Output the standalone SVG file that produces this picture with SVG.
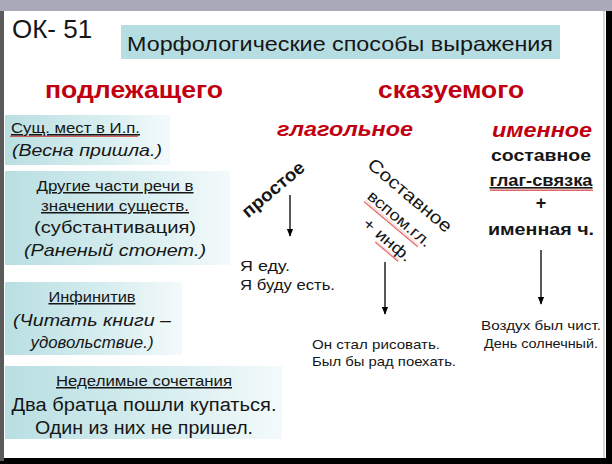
<svg xmlns="http://www.w3.org/2000/svg" width="612" height="464" viewBox="0 0 612 464">
<defs>
<linearGradient id="boxg" x1="0" y1="0" x2="1" y2="0">
<stop offset="0" stop-color="#b9dfe2"/>
<stop offset="0.6" stop-color="#d8eef0"/>
<stop offset="1" stop-color="#f4fafb"/>
</linearGradient>
<marker id="ah" viewBox="0 0 10 10" refX="9" refY="5" markerWidth="8" markerHeight="8" orient="auto" markerUnits="userSpaceOnUse">
<path d="M0,1 L10,5 L0,9 z" fill="#000"/>
</marker>
<pattern id="wavy" width="4" height="3" patternUnits="userSpaceOnUse">
<path d="M0,2 L1,0.5 L2,2 L3,0.5 L4,2" stroke="#d02020" stroke-width="0.8" fill="none"/>
</pattern>
</defs>
<style>
text{font-family:"Liberation Sans",Arial,sans-serif;fill:#161616}
.red{fill:#c00010;font-weight:bold}
.b{font-weight:bold}
.i{font-style:italic}
.c{text-anchor:middle}
.u{text-decoration:underline}
.arr{stroke:#000;stroke-width:1.3;fill:none;marker-end:url(#ah)}
</style>
<rect x="0" y="0" width="612" height="464" fill="#000"/>
<rect x="0" y="0" width="612" height="11" fill="#a9a9ba"/>
<rect x="0" y="11" width="4" height="450" fill="#5a5a5a"/>
<rect x="4" y="11" width="602" height="447" fill="#ffffff"/>
<rect x="603" y="11" width="2" height="447" fill="#d8d8d8"/>

<g id="code"><text x="12" y="38" font-size="26">ОК- 51</text></g>
<g id="title">
<rect x="121" y="25" width="439" height="34" fill="#b6dde1"/>
<text x="340" y="51" font-size="21" class="c" textLength="426" lengthAdjust="spacingAndGlyphs">Морфологические способы выражения</text>
</g>
<g id="podl"><text x="134" y="98" font-size="24" class="red c" textLength="178" lengthAdjust="spacingAndGlyphs">подлежащего</text></g>
<g id="skaz"><text x="451" y="98" font-size="24" class="red c" textLength="146" lengthAdjust="spacingAndGlyphs">сказуемого</text></g>

<g id="box1">
<rect x="5" y="115" width="165" height="50" fill="url(#boxg)"/>
<rect x="10" y="135" width="128" height="3" fill="url(#wavy)"/>
<text x="11" y="133" font-size="15" class="u" textLength="129" lengthAdjust="spacingAndGlyphs">Сущ. мест в И.п.</text>
<text x="12" y="156" font-size="17" class="i" textLength="150" lengthAdjust="spacingAndGlyphs">(Весна пришла.)</text>
</g>
<g id="box2">
<rect x="5" y="171" width="225" height="94" fill="url(#boxg)"/>
<text x="115" y="191" font-size="15" class="u c" textLength="157" lengthAdjust="spacingAndGlyphs">Другие части речи в</text>
<text x="115" y="211" font-size="15" class="u c" textLength="148" lengthAdjust="spacingAndGlyphs">значении существ.</text>
<text x="115" y="233" font-size="17" class="c" textLength="162" lengthAdjust="spacingAndGlyphs">(субстантивация)</text>
<text x="115" y="256" font-size="17" class="i c" textLength="182" lengthAdjust="spacingAndGlyphs">(Раненый стонет.)</text>
</g>
<g id="box3">
<rect x="5" y="282" width="177" height="73" fill="url(#boxg)"/>
<text x="92" y="302" font-size="15" class="u c" textLength="87" lengthAdjust="spacingAndGlyphs">Инфинитив</text>
<text x="92" y="326" font-size="17" class="i c" textLength="158" lengthAdjust="spacingAndGlyphs">(Читать книги –</text>
<text x="92" y="348" font-size="17" class="i c" textLength="123" lengthAdjust="spacingAndGlyphs">удовольствие.)</text>
</g>
<g id="box4">
<rect x="5" y="366" width="277" height="73" fill="url(#boxg)"/>
<text x="144" y="386" font-size="15" class="u c" textLength="176" lengthAdjust="spacingAndGlyphs">Неделимые сочетания</text>
<text x="144" y="411" font-size="18" class="c" textLength="265" lengthAdjust="spacingAndGlyphs">Два братца пошли купаться.</text>
<text x="144" y="434" font-size="18" class="c" textLength="218" lengthAdjust="spacingAndGlyphs">Один из них не пришел.</text>
</g>

<g id="glag"><text x="345" y="136" font-size="21" class="red i c" textLength="136" lengthAdjust="spacingAndGlyphs">глагольное</text></g>
<g id="imen"><text x="542" y="137" font-size="21" class="red i c" textLength="100" lengthAdjust="spacingAndGlyphs">именное</text></g>

<g id="prostoe">
<text x="0" y="0" font-size="18" class="b c" textLength="76" lengthAdjust="spacingAndGlyphs" transform="translate(277,194) rotate(-40)">простое</text>
<text x="240" y="271" font-size="14.5" textLength="50" lengthAdjust="spacingAndGlyphs">Я еду.</text>
<text x="240" y="290" font-size="14.5" textLength="95" lengthAdjust="spacingAndGlyphs">Я буду есть.</text>
</g>
<g id="sostavnoe">
<text x="0" y="0" font-size="18" class="c" textLength="104" lengthAdjust="spacingAndGlyphs" transform="translate(406,200) rotate(40)">Составное</text>
<g transform="translate(396,223) rotate(40)">
<rect x="-38" y="2" width="70" height="3" fill="url(#wavy)"/>
<text x="0" y="0" font-size="16" class="c" textLength="78" lengthAdjust="spacingAndGlyphs">вспом.гл.</text>
</g>
<g transform="translate(384,244) rotate(40)">
<rect x="-8" y="2" width="30" height="3" fill="url(#wavy)"/>
<text x="0" y="0" font-size="16" class="c" textLength="58" lengthAdjust="spacingAndGlyphs">+ инф.</text>
</g>
<text x="312" y="349" font-size="13" textLength="128" lengthAdjust="spacingAndGlyphs">Он стал рисовать.</text>
<text x="312" y="366" font-size="13" textLength="144" lengthAdjust="spacingAndGlyphs">Был бы рад поехать.</text>
</g>
<g id="imennoe">
<text x="541" y="161" font-size="16" class="b c" textLength="100" lengthAdjust="spacingAndGlyphs">составное</text>
<rect x="490" y="188" width="103" height="3" fill="url(#wavy)"/>
<text x="541" y="186" font-size="16" class="b c u" textLength="103" lengthAdjust="spacingAndGlyphs">глаг-связка</text>
<text x="541" y="209" font-size="18" class="b c">+</text>
<text x="541" y="235" font-size="16" class="b c" textLength="106" lengthAdjust="spacingAndGlyphs">именная ч.</text>
<text x="541" y="330" font-size="13" class="c" textLength="120" lengthAdjust="spacingAndGlyphs">Воздух был чист.</text>
<text x="541" y="348" font-size="13" class="c" textLength="114" lengthAdjust="spacingAndGlyphs">День солнечный.</text>
</g>

<g id="connectors">
<line x1="290" y1="195" x2="290" y2="236" class="arr"/>
<line x1="385" y1="262" x2="385" y2="314" class="arr"/>
<line x1="541" y1="250" x2="541" y2="304" class="arr"/>
</g>
</svg>
